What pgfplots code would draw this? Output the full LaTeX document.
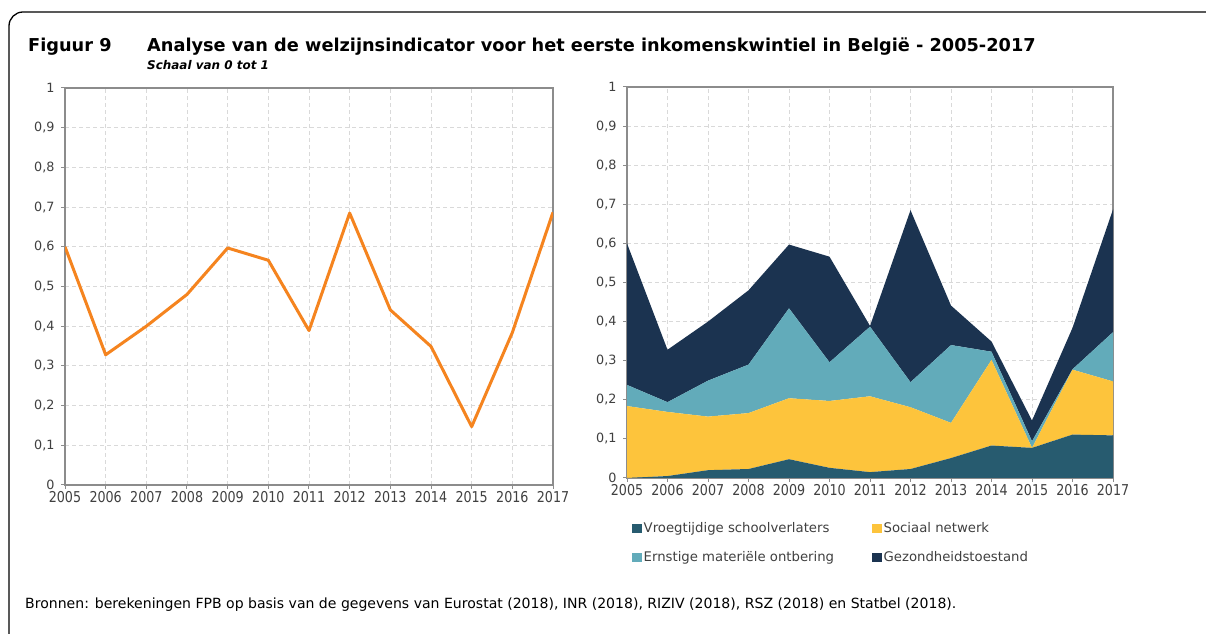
\documentclass[border=0pt]{standalone}
\usepackage{fontspec}
\setmainfont{DejaVu Sans}
\newfontfamily\condfont[FakeStretch=0.85]{DejaVu Sans}
\usepackage{pgfplots}
\usepackage{pgfplotstable}
\pgfplotsset{compat=1.18}
\definecolor{orangeL}{HTML}{F5841F}
\definecolor{vroeg}{HTML}{275B6F}
\definecolor{sociaal}{HTML}{FDC43C}
\definecolor{ernst}{HTML}{62ABBA}
\definecolor{gezond}{HTML}{1B3350}
\definecolor{axgray}{HTML}{8C8C8C}
\definecolor{gridgray}{HTML}{D9D9D9}
\definecolor{txt}{HTML}{404040}

\pgfplotstableread{
year total vroeg sociaal ernst gezond
2005 0.600 0.000 0.184 0.054 0.362
2006 0.328 0.005 0.164 0.025 0.134
2007 0.400 0.020 0.137 0.092 0.151
2008 0.480 0.023 0.143 0.124 0.190
2009 0.597 0.048 0.156 0.230 0.163
2010 0.566 0.026 0.171 0.099 0.270
2011 0.389 0.015 0.194 0.178 0.002
2012 0.685 0.023 0.158 0.064 0.440
2013 0.441 0.051 0.090 0.199 0.101
2014 0.349 0.083 0.219 0.021 0.026
2015 0.147 0.077 0.000 0.017 0.053
2016 0.384 0.111 0.166 0.001 0.106
2017 0.687 0.109 0.138 0.126 0.314
}\data

\pgfplotsset{
  mystyle/.style={
    scale only axis,
    anchor=south west,
    xmin=2005, xmax=2017, ymin=0, ymax=1,
    xtick={2005,2006,...,2017},
    ytick={0,0.1,0.2,0.3,0.4,0.5,0.6,0.7,0.8,0.9,1},
    /pgf/number format/.cd, use comma, 1000 sep={}, assume math mode=true,
    /pgfplots/.cd,
    xtick pos=bottom, ytick pos=left,
    tick align=outside, major tick length=4bp,
    tick style={axgray, line width=1bp},
    grid=major,
    major grid style={gridgray, line width=0.8bp, dash pattern=on 4bp off 3bp},
    axis line style={axgray, line width=2.2bp},
    xticklabel style={font=\condfont\fontsize{15}{15}\selectfont, text=txt, inner sep=1bp, yshift=-1bp},
    yticklabel style={font=\fontsize{12.8}{13}\selectfont, text=txt, xshift=-3bp,
       /pgf/number format/fixed, /pgf/number format/precision=1},
  }
}

\begin{document}
\begin{tikzpicture}
\path[use as bounding box] (0bp,0bp) rectangle (1206bp,634bp);
\fill[white] (0bp,0bp) rectangle (1206bp,634bp);
\draw[black, line width=1.3bp, rounded corners=14bp] (9bp,-10bp) -- (9bp,622bp) -- (1220bp,622bp);

\node[anchor=base west, font=\bfseries\fontsize{17.8}{19}\selectfont, inner sep=0pt] at (28bp,582bp) {Figuur 9};
\node[anchor=base west, font=\bfseries\fontsize{17.8}{19}\selectfont, inner sep=0pt] at (147bp,582bp) {Analyse van de welzijnsindicator voor het eerste inkomenskwintiel in België - 2005-2017};
\node[anchor=base west, font=\bfseries\itshape\fontsize{12}{13}\selectfont, inner sep=0pt] at (147bp,564bp) {Schaal van 0 tot 1};

\begin{axis}[mystyle, at={(65bp,149bp)}, width=488bp, height=397bp]
\addplot[orangeL, line width=3bp, line join=round] table[x=year, y=total] {\data};
\end{axis}

\begin{axis}[mystyle, at={(627bp,156bp)}, width=486bp, height=391bp,
  stack plots=y,
  legend columns=2,
  legend style={at={(0,0)}, anchor=north west, xshift=5bp, yshift=-42bp,
    draw=none, fill=none, font=\fontsize{13.3}{14}\selectfont, text=txt,
    nodes={inner sep=2bp, text height=10bp, text depth=3bp},
    row sep=12bp, /tikz/every even column/.append style={column sep=36bp},
    inner sep=0pt},
  legend cell align=left,
  legend image code/.code={\fill[#1] (0bp,-4.5bp) rectangle (9.5bp,5bp);},
]
\addplot[fill=vroeg, draw=none] table[x=year, y=vroeg] {\data} \closedcycle;
\addlegendentry{Vroegtijdige schoolverlaters}
\addplot[fill=sociaal, draw=none] table[x=year, y=sociaal] {\data} \closedcycle;
\addlegendentry{Sociaal netwerk}
\addplot[fill=ernst, draw=none] table[x=year, y=ernst] {\data} \closedcycle;
\addlegendentry{Ernstige materiële ontbering}
\addplot[fill=gezond, draw=none] table[x=year, y=gezond] {\data} \closedcycle;
\addlegendentry{Gezondheidstoestand}
\end{axis}

\node[anchor=base west, font=\fontsize{14.1}{15}\selectfont, inner sep=0pt] at (25bp,26bp) {Bronnen: berekeningen FPB op basis van de gegevens van Eurostat (2018), INR (2018), RIZIV (2018), RSZ (2018) en Statbel (2018).};
\end{tikzpicture}
\end{document}
